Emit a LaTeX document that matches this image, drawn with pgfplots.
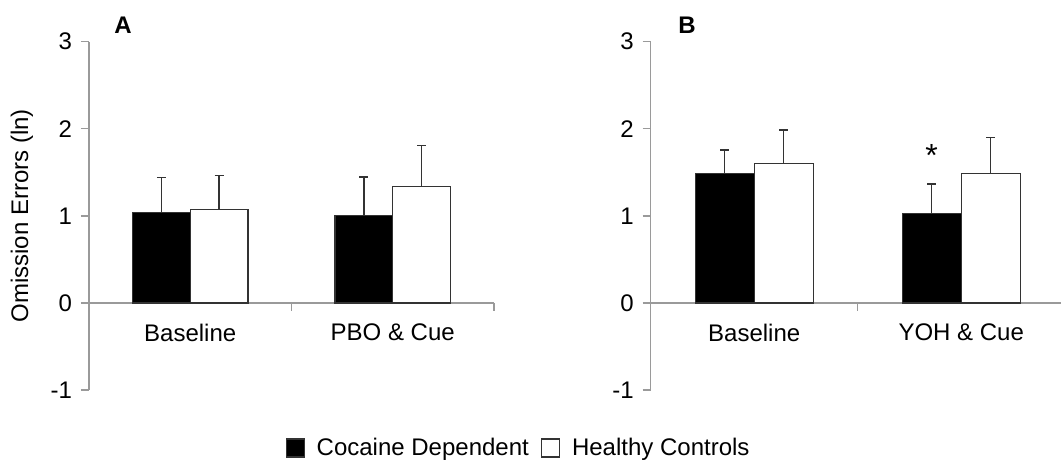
\documentclass[border=0pt]{standalone}
\usepackage{fontspec}
\setmainfont{Liberation Sans}
\usepackage{pgfplots}
\usepackage{pgfplotstable}
\pgfplotsset{compat=1.18}

\definecolor{axisgray}{HTML}{9A9A9A}
\definecolor{edge}{HTML}{333333}

\pgfplotstableread{
x    cd     cderr  hc     hcerr
0.5  1.043  0.397  1.070  0.393
1.5  1.005  0.440  1.337  0.470
}\tableA

\pgfplotstableread{
x    cd     cderr  hc     hcerr
0.5  1.483  0.275  1.597  0.391
1.5  1.024  0.344  1.490  0.410
}\tableB

\pgfplotsset{
  panel/.style={
    scale only axis, height=174.15pt,
    xmin=0, xmax=2, ymin=-1, ymax=3,
    clip=false,
    axis y line=left, axis x line=middle,
    axis line style={-, draw=axisgray, line width=0.7pt},
    hide obscured y ticks=false, hide obscured x ticks=false,
    ytick={-1,0,1,2,3},
    xtick={0.5,1.5},
    major x tick style={draw=none},
    minor xtick={1,2},
    minor x tick style={draw=axisgray, line width=0.7pt},
    major y tick style={draw=axisgray, line width=0.7pt},
    major tick length=4pt, minor tick length=4pt,
    tick align=outside,
    /pgf/number format/assume math mode=true,
    tick label style={font=\fontsize{12}{14}\selectfont, text=black},
    yticklabel style={xshift=-1pt},
    xticklabel style={yshift=-3pt},
    ybar=0pt, bar width=0.285,
    error bars/y dir=plus, error bars/y explicit,
    error bars/error bar style={line width=0.7pt, draw=edge},
    error bars/error mark options={rotate=90, line width=0.7pt, draw=edge, mark size=2.2pt},
  },
  sq/.style={legend image code/.code={\draw[##1, draw=edge, line width=0.6pt] (0pt,-4.5pt) rectangle (9pt,4.5pt);}},
}

\begin{document}
\begin{tikzpicture}
\begin{axis}[panel, at={(44.5pt,41pt)}, anchor=south west, width=202.5pt,
  xticklabels={Baseline, PBO \& Cue},
  ylabel={Omission Errors (ln)},
  every axis y label/.style={at={(axis description cs:-0.1654,0.5)}, rotate=90, anchor=center, font=\fontsize{12}{14}\selectfont},
  legend columns=2,
  legend style={at={(1.0605,-0.1665)}, anchor=center, draw=none, fill=none,
    font=\fontsize{12}{14}\selectfont,
    nodes={inner sep=1pt},
    /tikz/every odd column/.append style={column sep=5pt},
    /tikz/every even column/.append style={column sep=5pt}},
  ]
  \addplot[fill=black, draw=edge, line width=0.6pt, bar shift=-0.1425, sq]
    table[x=x, y=cd, y error=cderr] {\tableA};
  \addlegendentry{Cocaine Dependent}
  \addplot[fill=white, draw=edge, line width=0.6pt, bar shift=0.1425, sq]
    table[x=x, y=hc, y error=hcerr] {\tableA};
  \addlegendentry{Healthy Controls}
  \node[font=\bfseries\fontsize{12}{14}\selectfont] at (rel axis cs:0.084,1.048) {A};
\end{axis}

\begin{axis}[panel, at={(325.35pt,41pt)}, anchor=south west, width=207pt,
  xticklabels={Baseline, YOH \& Cue},
  ]
  \addplot[fill=black, draw=edge, line width=0.6pt, bar shift=-0.1425]
    table[x=x, y=cd, y error=cderr] {\tableB};
  \addplot[fill=white, draw=edge, line width=0.6pt, bar shift=0.1425]
    table[x=x, y=hc, y error=hcerr] {\tableB};
  \node[font=\bfseries\fontsize{12}{14}\selectfont] at (rel axis cs:0.0877,1.048) {B};
  \node[font=\fontsize{16}{18}\selectfont] at (axis cs:1.3575,1.69) {*};
\end{axis}

\pgfresetboundingbox
\path (0pt,0pt) rectangle (530.5pt,236pt);
\end{tikzpicture}
\end{document}
